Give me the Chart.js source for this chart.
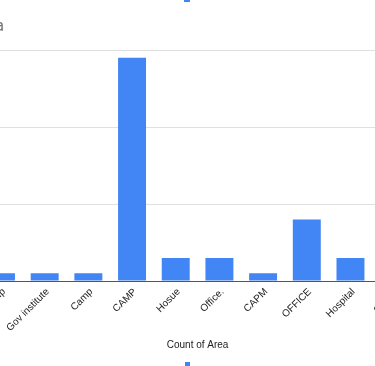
<!DOCTYPE html>
<html>
<head>
<meta charset="utf-8">
<script src="https://cdn.jsdelivr.net/npm/chart.js@4.4.0/dist/chart.umd.min.js"></script>
<style>
  html, body { margin: 0; padding: 0; background: #fff; }
  body { width: 375px; height: 366px; overflow: hidden; position: relative; }
  #wrap { position: absolute; left: -114px; top: 0; width: 540px; height: 366px; }
  .frag { position: absolute; background: #4285f4; }
</style>
</head>
<body>
<div id="wrap"><canvas id="chartArea" width="540" height="366"></canvas></div>
<div class="frag" style="left:184px; top:0; width:6px; height:2px;"></div>
<div class="frag" style="left:185px; top:362px; width:5px; height:4px;"></div>
<script>
// Datos del grafico
const areas = ["camp", "Gov institute", "Camp", "CAMP", "Hosue", "Office.", "CAPM", "OFFICE", "Hospital", "School"];
const conteo = [1, 1, 1, 29, 3, 3, 1, 8, 3, 1];
const yTicks = [0, 10, 20, 30];

const ctx = document.getElementById("chartArea");

// Configuracion del grafico
const options = {
  responsive: false,
  animation: false,
  layout: { padding: { left: 20, right: 10, top: 0, bottom: 0 } },
  plugins: {
    legend: { display: false },
    tooltip: { enabled: false },
    title: {
      display: true,
      text: "Count of Area",
      align: "start",
      color: "#757575",
      font: { family: "Roboto", size: 16, weight: "normal" },
      padding: { top: 17, bottom: 13.8 },
    },
  },
  scales: {
    x: {
      grid: { display: false, drawTicks: false },
      border: { display: true, color: "#555", width: 1 },
      ticks: {
        color: "#222",
        font: { family: "Liberation Sans, Arial", size: 10 },
        minRotation: 45,
        maxRotation: 45,
        autoSkip: false,
        padding: 5,
        labelOffset: 3,
      },
      title: {
        display: true,
        text: "Count of Area",
        color: "#222",
        font: { family: "Liberation Sans, Arial", size: 10 },
        padding: { top: 0, bottom: 15 },
      },
      afterFit: (scale) => { scale.height = 85; },
    },
    y: {
      min: yTicks[0],
      max: yTicks[yTicks.length - 1],
      ticks: { display: false, stepSize: yTicks[1] - yTicks[0] },
      grid: { color: "#e0e0e0", lineWidth: 1, drawTicks: false },
      border: { display: false },
      afterFit: (scale) => { scale.width = 73.15; },
    },
  },
};

Bar = new Chart(ctx, {
  type: "bar",
  data: {
    labels: areas,
    datasets: [
      {
        label: "Count of Area",
        data: conteo,
        backgroundColor: "#4285f4",
        borderWidth: 0,
        categoryPercentage: 1,
        barPercentage: 0.64,
      },
    ],
  },
  options: options,
});
</script>
</body>
</html>
